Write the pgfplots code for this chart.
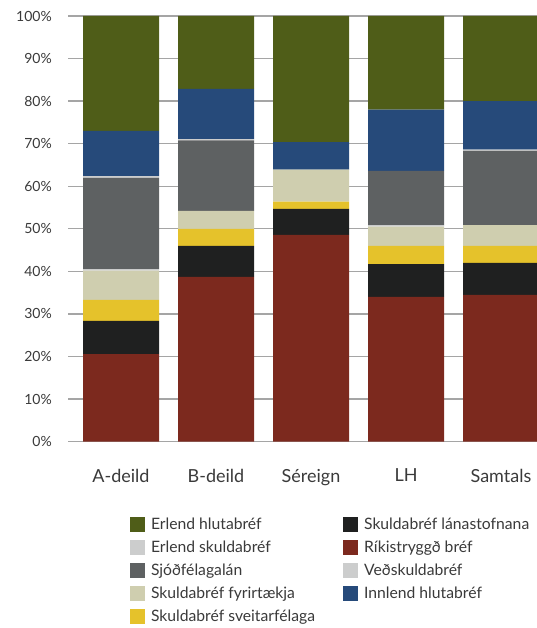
\documentclass[border=0pt]{standalone}
\usepackage{pgfplots}
\pgfplotsset{compat=1.18}
\usepackage{fontspec}
\setmainfont{Lato}
\definecolor{erlh}{HTML}{4F5D18}
\definecolor{innl}{HTML}{264A7A}
\definecolor{sjod}{HTML}{5E6162}
\definecolor{fyrir}{HTML}{CFCEAF}
\definecolor{sveit}{HTML}{E5C22B}
\definecolor{lanas}{HTML}{1F2020}
\definecolor{rikis}{HTML}{7C291E}
\definecolor{lgray}{HTML}{CCCDCD}
\definecolor{gridgray}{HTML}{A5A5A5}
\definecolor{txt}{HTML}{3A3A3A}
\pgfplotsset{sqleg/.style={legend image code/.code={\fill[##1, draw=none] (0pt,-7.5pt) rectangle (15pt,7.5pt);}}}
\pgfplotstableread{
x rikis lanas sveit fyrir ved sjod erls innl erlh
0 20.6 7.8 4.9 6.9 0.3 21.5 0.4 10.6 27.0
1 38.7 7.3 4.0 4.2 0.0 16.6 0.3 11.8 17.1
2 48.6 6.1 1.7 7.5 0.0 0.0 0.0 6.5 29.6
3 34.0 7.7 4.3 4.5 0.3 12.8 0.0 14.4 22.0
4 34.5 7.5 4.0 4.9 0.0 17.4 0.3 11.4 20.0
}\datatable
\begin{document}
\begin{tikzpicture}[x=1pt,y=1pt]
\useasboundingbox (0,0) rectangle (537,628);
\begin{axis}[
  at={(68pt,186.3pt)}, anchor=south west,
  scale only axis, width=469pt, height=425.7pt,
  xmin=-0.558, xmax=4.379, ymin=0, ymax=100,
  ybar stacked, bar width=76pt,
  axis line style={draw=none},
  major tick length=0pt,
  xtick={0,...,4}, xticklabels={A-deild,B-deild,Séreign,LH,Samtals},
  ytick={0,10,...,100},
  yticklabel={\pgfmathprintnumber{\tick}\%},
  /pgf/number format/assume math mode=true,
  ymajorgrids, grid style={line width=1.3pt, color=gridgray},
  xticklabel style={font=\fontsize{18}{20}\selectfont, text=txt, anchor=north, inner sep=0pt, yshift=-27pt},
  yticklabel style={font=\fontsize{14}{16}\selectfont, text=txt, anchor=east, inner sep=0pt, xshift=-16pt},
  legend columns=2,
  legend cell align=left,
  legend style={draw=none, fill=none, inner sep=0pt, outer sep=0pt,
    at={(0.1322,-0.1762)}, anchor=north west,
    font=\fontsize{15.7}{18}\selectfont, text=txt,
    nodes={inner sep=0pt},
    row sep=8pt,
    /tikz/every odd column/.style={column sep=6pt},
    /tikz/every even column/.style={column sep=28pt}},
]
\addplot[fill=rikis, draw=none, forget plot] table[x=x,y=rikis]{\datatable};
\addplot[fill=lanas, draw=none, forget plot] table[x=x,y=lanas]{\datatable};
\addplot[fill=sveit, draw=none, forget plot] table[x=x,y=sveit]{\datatable};
\addplot[fill=fyrir, draw=none, forget plot] table[x=x,y=fyrir]{\datatable};
\addplot[fill=lgray, draw=none, forget plot] table[x=x,y=ved]{\datatable};
\addplot[fill=sjod, draw=none, forget plot] table[x=x,y=sjod]{\datatable};
\addplot[fill=lgray, draw=none, forget plot] table[x=x,y=erls]{\datatable};
\addplot[fill=innl, draw=none, forget plot] table[x=x,y=innl]{\datatable};
\addplot[fill=erlh, draw=none, forget plot] table[x=x,y=erlh]{\datatable};
\addlegendimage{sqleg, fill=erlh}\addlegendentry{Erlend hlutabréf}
\addlegendimage{sqleg, fill=lanas}\addlegendentry{Skuldabréf lánastofnana}
\addlegendimage{sqleg, fill=lgray}\addlegendentry{Erlend skuldabréf}
\addlegendimage{sqleg, fill=rikis}\addlegendentry{Ríkistryggð bréf}
\addlegendimage{sqleg, fill=sjod}\addlegendentry{Sjóðfélagalán}
\addlegendimage{sqleg, fill=lgray}\addlegendentry{Veðskuldabréf}
\addlegendimage{sqleg, fill=fyrir}\addlegendentry{Skuldabréf fyrirtækja}
\addlegendimage{sqleg, fill=innl}\addlegendentry{Innlend hlutabréf}
\addlegendimage{sqleg, fill=sveit}\addlegendentry{Skuldabréf sveitarfélaga}
\end{axis}
\end{tikzpicture}
\end{document}
